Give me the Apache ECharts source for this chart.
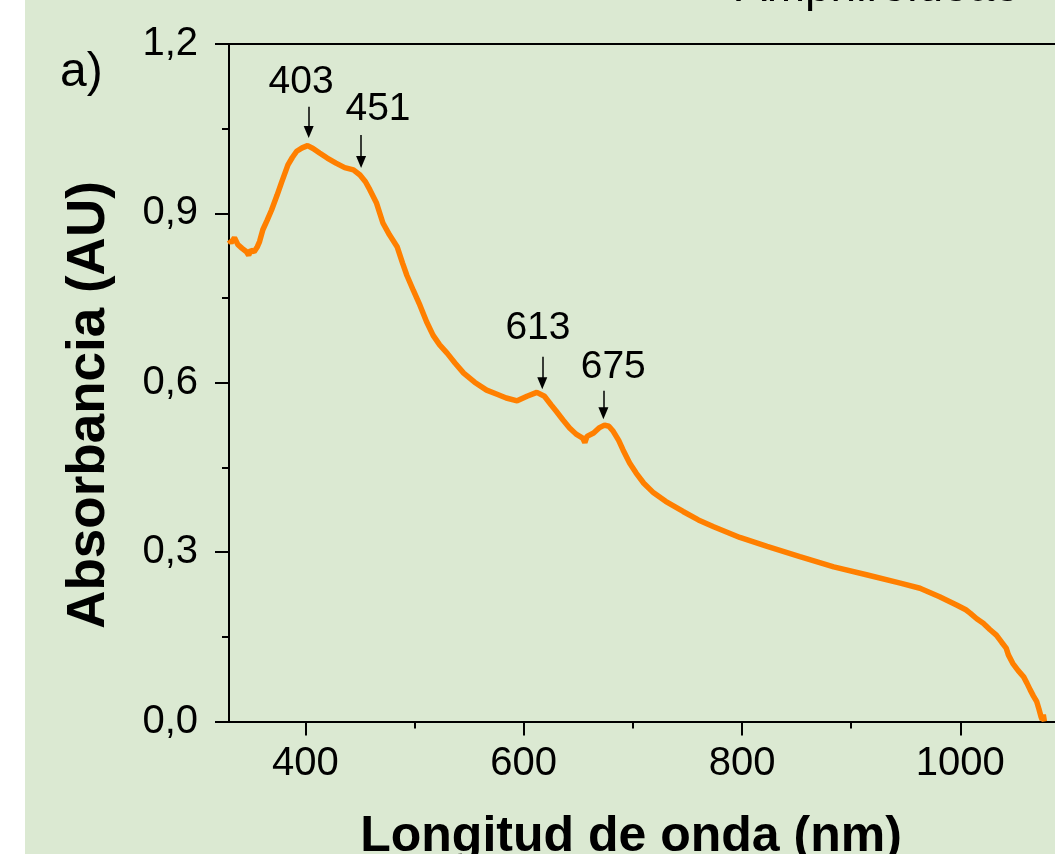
<!DOCTYPE html>
<html>
<head>
<meta charset="utf-8">
<script src="https://cdn.jsdelivr.net/npm/echarts@6/dist/echarts.min.js"></script>
<style>
html,body{margin:0;padding:0;background:#fff;}
#chart{width:1055px;height:854px;}
</style>
</head>
<body>
<div id="chart"></div>
<script>
// Wavelength (nm) and absorbance (AU)
const wavelength = [330,332,335,338,342,346,348,350,353,356,358,361,365,369,374,378,384,388,392,397,402,407,413,420,428,436,444,450,455,459,465,471,477,484,489,493,499,505,511,517,523,530,537,545,555,566,575,584,594,603,612,619,625,630,636,642,648,654,656,658,664,669,674,678,682,687,691,697,703,710,719,730,746,760,774,798,823,853,884,914,945,963,981,997,1005,1009,1015,1021,1027,1033,1038,1042,1044,1048,1053,1058,1061,1064,1067,1070,1072,1074,1075,1076,1077];
const absorbance = [0.853,0.848,0.857,0.845,0.838,0.832,0.826,0.835,0.832,0.841,0.850,0.871,0.888,0.906,0.932,0.954,0.986,0.999,1.010,1.016,1.020,1.015,1.007,0.998,0.989,0.981,0.977,0.968,0.956,0.942,0.919,0.883,0.862,0.841,0.812,0.790,0.763,0.737,0.708,0.684,0.667,0.652,0.635,0.617,0.601,0.587,0.580,0.573,0.568,0.576,0.583,0.576,0.561,0.549,0.534,0.520,0.509,0.502,0.494,0.505,0.511,0.520,0.525,0.523,0.514,0.498,0.481,0.458,0.440,0.422,0.405,0.390,0.372,0.357,0.345,0.326,0.310,0.292,0.274,0.260,0.245,0.236,0.221,0.206,0.198,0.192,0.182,0.174,0.163,0.153,0.140,0.130,0.118,0.103,0.090,0.079,0.068,0.056,0.045,0.035,0.022,0.008,0.003,0.012,0.000];

// Axis ticks
const xMajorTicks = [400, 600, 800, 1000];
const xMinorTicks = [500, 700, 900];
const yTicks = [0, 0.3, 0.6, 0.9, 1.2];

// Peak annotations (data units)
const peakLabels = ['403', '451', '613', '675'];
const peakArrowNm = [403, 451, 617, 673];
const arrowTopA = [1.089, 1.039, 0.646, 0.586];
const arrowEndA = [1.044, 0.991, 0.599, 0.546];
const labelNm = [396, 466.5, 613, 682];
const labelA = [1.133, 1.085, 0.697, 0.627];

const xTitle = 'Longitud de onda (nm)';
const yTitle = 'Absorbancia (AU)';
const panelLabel = 'a)';
const figTitle = 'Amphiroideae';

const FONT = '"Liberation Sans", Arial, sans-serif';
const lineData = wavelength.map((w, i) => [w, absorbance[i]]);

const chart = echarts.init(document.getElementById('chart'), null, {renderer: 'canvas'});
chart.setOption({
  backgroundColor: '#ffffff',
  animation: false,
  textStyle: {fontFamily: FONT},
  graphic: [
    {type: 'rect', z: -100, silent: true, shape: {x: 25, y: 0, width: 1030, height: 854}, style: {fill: '#dbe9d2'}},
    {type: 'text', left: 60, top: 49, silent: true, style: {text: panelLabel, font: '48px ' + FONT, fill: '#000'}},
    {type: 'text', x: 736, y: -12, silent: true, style: {text: figTitle, font: '46px ' + FONT, fill: '#000', verticalAlign: 'middle'}},
    {type: 'text', x: 89, y: 405, rotation: Math.PI / 2, silent: true,
     style: {text: yTitle, font: 'bold 53px ' + FONT, fill: '#000', align: 'center', verticalAlign: 'middle'}},
    {type: 'text', x: 631, y: 837, silent: true,
     style: {text: xTitle, font: 'bold 50px ' + FONT, fill: '#000', align: 'center', verticalAlign: 'middle'}}
  ],
  grid: {left: 229, top: 44, width: 840.5, height: 677.5, containLabel: false, outerBoundsMode: 'none'},
  xAxis: [
    {
      type: 'value', min: 330, max: 1100, position: 'bottom',
      splitLine: {show: false},
      axisLine: {show: true, onZero: false, lineStyle: {color: '#000', width: 2}},
      axisTick: {show: true, inside: false, length: 14, customValues: xMajorTicks, lineStyle: {color: '#000', width: 2}},
      axisLabel: {show: true, customValues: xMajorTicks, margin: 22, fontSize: 40, color: '#000', fontFamily: FONT,
                  formatter: v => String(v)}
    },
    {
      type: 'value', min: 330, max: 1100, position: 'bottom',
      splitLine: {show: false},
      axisLine: {show: false, onZero: false},
      axisTick: {show: true, inside: false, length: 7, customValues: xMinorTicks, lineStyle: {color: '#000', width: 2}},
      axisLabel: {show: false}
    },
    {
      type: 'value', min: 330, max: 1100, position: 'top',
      splitLine: {show: false},
      axisLine: {show: true, onZero: false, lineStyle: {color: '#000', width: 2}},
      axisTick: {show: false},
      axisLabel: {show: false}
    }
  ],
  yAxis: {
    type: 'value', min: 0, max: 1.2, interval: 0.3,
    splitLine: {show: false},
    axisLine: {show: true, onZero: false, lineStyle: {color: '#000', width: 2}},
    axisTick: {show: true, inside: false, length: 14, lineStyle: {color: '#000', width: 2}},
    minorTick: {show: true, splitNumber: 2, length: 7, lineStyle: {color: '#000', width: 2}},
    axisLabel: {
      margin: 31, fontSize: 40, color: '#000', fontFamily: FONT,
      formatter: v => yTicks.some(t => Math.abs(t - v) < 1e-6) ? v.toFixed(1).replace('.', ',') : ''
    }
  },
  series: [
    {
      type: 'line',
      data: lineData,
      showSymbol: false,
      smooth: false,
      silent: true,
      lineStyle: {color: '#ff7f00', width: 5.5},
      itemStyle: {color: '#ff7f00'},
      markLine: {
        silent: true,
        symbol: ['none', 'triangle'],
        symbolSize: [10, 12],
        label: {show: false},
        lineStyle: {color: '#000', width: 1.5, type: 'solid'},
        itemStyle: {color: '#000'},
        emphasis: {disabled: true},
        data: peakArrowNm.map((nm, i) => [
          {coord: [nm, arrowTopA[i]]},
          {coord: [nm, arrowEndA[i]]}
        ])
      },
      markPoint: {
        silent: true,
        symbol: 'circle',
        symbolSize: 1,
        itemStyle: {color: 'rgba(0,0,0,0)'},
        label: {show: true, position: 'inside', fontSize: 39, color: '#000', fontFamily: FONT},
        data: peakLabels.map((t, i) => ({coord: [labelNm[i], labelA[i]], value: t, label: {formatter: t}}))
      }
    }
  ]
});
</script>
</body>
</html>
